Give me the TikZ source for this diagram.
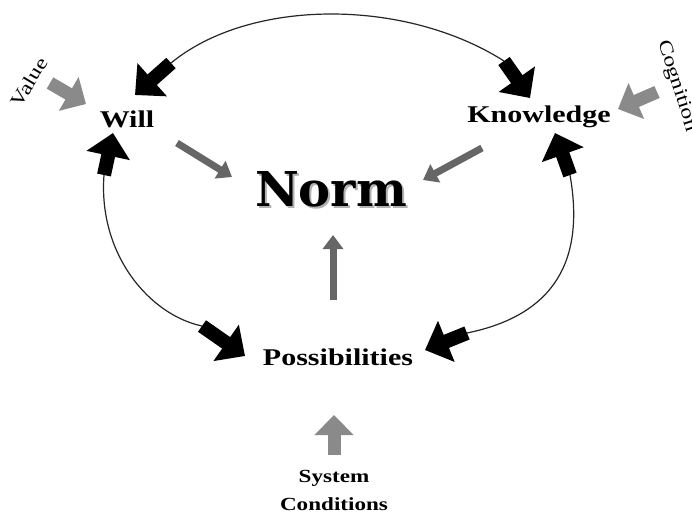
\documentclass[tikz,border=0pt]{standalone}
\usepackage{fontspec}
\setmainfont{Liberation Serif}
\newfontfamily\bask[FakeStretch=1.25]{Liberation Serif}
\newfontfamily\normfont{DejaVu Serif}
\usetikzlibrary{arrows.meta}
\definecolor{lightarr}{HTML}{8A8A8A}
\definecolor{darkarr}{HTML}{666666}
\begin{document}
\begin{tikzpicture}[x=1pt,y=-1pt,
  lbl/.style={font=\bask\bfseries\fontsize{24}{28}\selectfont, inner sep=0pt, anchor=base},
  side/.style={font=\bask\fontsize{19}{22}\selectfont, inner sep=0pt},
  sysstyle/.style={font=\bask\bfseries\fontsize{18.5}{28}\selectfont, inner sep=0pt, align=center, anchor=base},
  normstyle/.style={font=\normfont\bfseries\fontsize{48}{56}\selectfont, inner sep=0pt, anchor=base},
  blackblock/.style={line width=14pt, draw=black, -{Triangle[length=23pt,width=43pt]}},
  grayblock/.style={line width=13pt, draw=lightarr, -{Triangle[length=20pt,width=38pt]}},
  thinarr/.style={line width=7pt, draw=darkarr, -{Triangle[length=14pt,width=20pt]}},
  cycleline/.style={line width=1.2pt, draw=black!85}]
\useasboundingbox[fill=white] (0,0) rectangle (692,512);

% text nodes
\node[lbl] (will) at (127,127) {Will};
\node[lbl] (know) at (539,122) {Knowledge};
\node[lbl] (poss) at (338,365) {Possibilities};
\node[normstyle, text=black!30] (normshadow) at (333,208) {Norm};
\node[normstyle] (norm) at (331,206) {Norm};
\node[side, rotate=59] (value) at (29,82) {Value};
\node[side, rotate=-72] (cog) at (677,86) {Cognition};
\node[sysstyle] (sys) at (334,510) {System\\Conditions};

% arrow end points
\coordinate (wTopS) at (171,63);  \coordinate (wTopT) at (135,95);
\coordinate (kTopS) at (504,61);  \coordinate (kTopT) at (530,98);
\coordinate (wBotS) at (104,175); \coordinate (wBotT) at (113,133);
\coordinate (kBotS) at (570,175); \coordinate (kBotT) at (555,133);
\coordinate (pLS) at (202,326);   \coordinate (pLT) at (245,356);
\coordinate (pRS) at (467,333);   \coordinate (pRT) at (425,350);
\coordinate (wnS) at (177,143);   \coordinate (wnT) at (232,177);
\coordinate (knS) at (482,148);   \coordinate (knT) at (423,180);
\coordinate (pnS) at (333,300);   \coordinate (pnT) at (333,235);
\coordinate (vS) at (50,83);      \coordinate (vT) at (86,104);
\coordinate (cS) at (657,92);     \coordinate (cT) at (618,109);
\coordinate (sS) at (334,455);    \coordinate (sT) at (334,415);

% cycle curves
\draw[cycleline] (wTopS) .. controls (250,-2) and (405,-2) .. (kTopS);
\draw[cycleline] (wBotS) .. controls (98,255) and (150,315) .. (pLS);
\draw[cycleline] (kBotS) .. controls (585,260) and (555,315) .. (pRS);

% black block arrows
\draw[blackblock] (wTopS) -- (wTopT);
\draw[blackblock] (kTopS) -- (kTopT);
\draw[blackblock] (wBotS) -- (wBotT);
\draw[blackblock] (kBotS) -- (kBotT);
\draw[blackblock] (pLS) -- (pLT);
\draw[blackblock] (pRS) -- (pRT);

% dark gray arrows to Norm
\draw[thinarr] (wnS) -- (wnT);
\draw[thinarr] (knS) -- (knT);
\draw[thinarr] (pnS) -- (pnT);

% light gray block arrows
\draw[grayblock] (vS) -- (vT);
\draw[grayblock] (cS) -- (cT);
\draw[grayblock] (sS) -- (sT);
\end{tikzpicture}
\end{document}
